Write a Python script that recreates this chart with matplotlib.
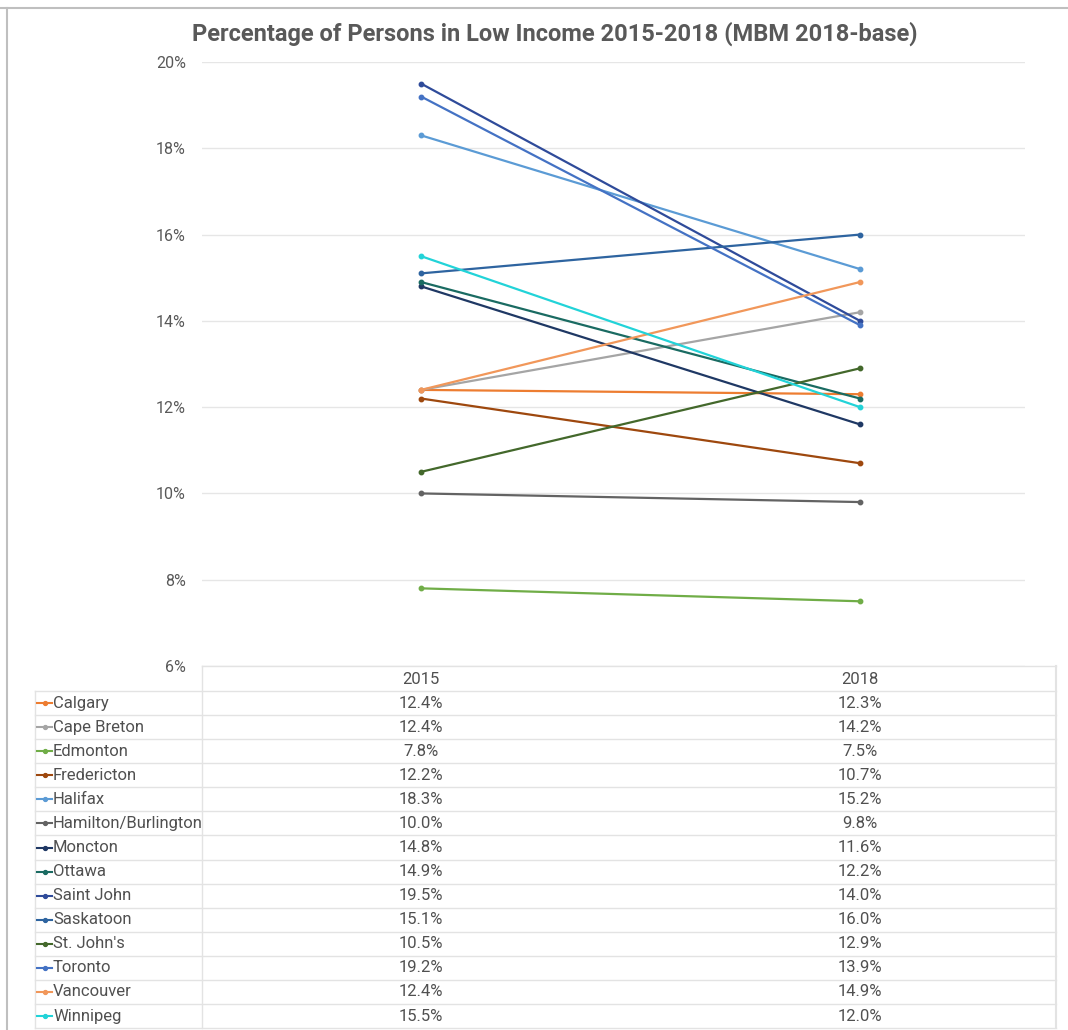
import matplotlib
matplotlib.use("Agg")
import matplotlib.pyplot as plt
from matplotlib.lines import Line2D

plt.rcParams['font.family'] = ['Roboto', 'DejaVu Sans']

years = ["2015", "2018"]
cities = ["Calgary", "Cape Breton", "Edmonton", "Fredericton", "Halifax",
          "Hamilton/Burlington", "Moncton", "Ottawa", "Saint John", "Saskatoon",
          "St. John's", "Toronto", "Vancouver", "Winnipeg"]
v2015 = [12.4, 12.4, 7.8, 12.2, 18.3, 10.0, 14.8, 14.9, 19.5, 15.1, 10.5, 19.2, 12.4, 15.5]
v2018 = [12.3, 14.2, 7.5, 10.7, 15.2, 9.8, 11.6, 12.2, 14.0, 16.0, 12.9, 13.9, 14.9, 12.0]
colors = ["#ED7D31", "#A5A5A5", "#70AD47", "#9E480E", "#5B9BD5", "#636363",
          "#1F3864", "#1A6B62", "#2F4B9A", "#2E64A0", "#43682B", "#4472C4",
          "#F1975A", "#22D3D8"]
yticks = [6, 8, 10, 12, 14, 16, 18, 20]

W, H = 1068, 1030
fig = plt.figure(figsize=(W / 100, H / 100), dpi=100)
fig.patch.set_facecolor("white")

def ax_rect(l, t, r, b):
    return [l / W, 1 - b / H, (r - l) / W, (b - t) / H]

# main plot
px_l, px_r, px_t, px_b = 202, 1025, 62, 666
x0, x1 = 421, 860
unit = x1 - x0
ax = fig.add_axes(ax_rect(px_l, px_t, px_r, px_b))
ax.set_xlim(-(x0 - px_l) / unit, 1 + (px_r - x1) / unit)
ax.set_ylim(6, 20)
for s in ax.spines.values():
    s.set_visible(False)
ax.set_yticks(yticks)
ax.set_yticklabels([f"{t}%" for t in yticks])
ax.tick_params(axis='y', length=0, pad=11.5, labelsize=11.5, labelcolor="#595959")
ax.set_xticks([])
ax.grid(axis='y', color="#E6E6E6", linewidth=1)
ax.set_axisbelow(True)
for i, c in enumerate(cities):
    ax.plot([0, 1], [v2015[i], v2018[i]], color=colors[i], lw=1.6,
            marker='o', ms=3.2, zorder=3, solid_capstyle='round')

# overlay for title, frame and table
ov = fig.add_axes([0, 0, 1, 1])
ov.set_xlim(0, W)
ov.set_ylim(H, 0)
ov.axis('off')
ov.patch.set_alpha(0)

ov.plot([0, W], [8, 8], color="#BFBFBF", lw=1.5)
ov.plot([7, 7], [8, H], color="#BFBFBF", lw=1.5)

ov.text(555, 34, "Percentage of Persons in Low Income 2015-2018 (MBM 2018-base)",
        ha='center', va='center', fontsize=17, fontweight='bold', color="#595959")

gc = "#E3E3E3"
tab_l, col1, tab_r = 35, 202, 1056
head_t, row0 = 666, 691
rh = 24.08
nrow = len(cities)
tab_b = row0 + rh * nrow
ov.plot([col1, tab_r], [head_t, head_t], color=gc, lw=1)
for k in range(nrow + 1):
    y = row0 + rh * k
    ov.plot([tab_l, tab_r], [y, y], color=gc, lw=1)
ov.plot([tab_l, tab_l], [row0, tab_b], color=gc, lw=1)
ov.plot([col1, col1], [head_t, tab_b], color=gc, lw=1)
ov.plot([tab_r, tab_r], [head_t, tab_b], color=gc, lw=1.5)

tc = "#505050"
fs = 12
ov.text(x0, 679, years[0], ha='center', va='center', fontsize=fs, color=tc)
ov.text(x1, 679, years[1], ha='center', va='center', fontsize=fs, color=tc)
for i, c in enumerate(cities):
    yc = row0 + rh * (i + 0.5)
    ov.add_line(Line2D([37, 52], [yc, yc], color=colors[i], lw=1.5))
    ov.plot([44.5], [yc], marker='o', ms=2.8, color=colors[i])
    ov.text(53, yc, c, ha='left', va='center', fontsize=fs, color=tc)
    ov.text(x0, yc, f"{v2015[i]:.1f}%", ha='center', va='center', fontsize=fs, color=tc)
    ov.text(x1, yc, f"{v2018[i]:.1f}%", ha='center', va='center', fontsize=fs, color=tc)

fig.savefig("out.png", dpi=100, facecolor="white")
